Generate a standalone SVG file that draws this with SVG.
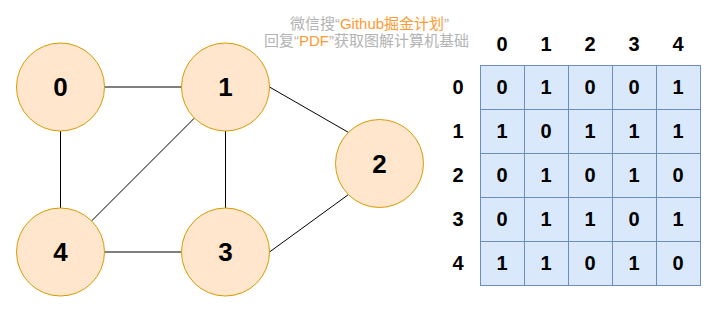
<svg xmlns="http://www.w3.org/2000/svg" width="712" height="315" viewBox="0 0 712 315">
<style>
.node circle{fill:#ffe6cc;stroke:#d79b00;stroke-width:1}
.nl{font-family:"Liberation Sans",Arial,sans-serif;font-weight:bold;font-size:26px;fill:#000;text-anchor:middle}
.edges line{stroke:#000;stroke-width:1}
.cell{fill:#dae8fc;stroke:#6c8ebf;stroke-width:1}
.t{font-family:"Liberation Sans",Arial,sans-serif;font-weight:bold;font-size:20px;fill:#000;text-anchor:middle}
.wm{font-family:"Liberation Sans","Noto Sans CJK SC",sans-serif;font-size:15px;fill:#b3b3b3;text-anchor:middle}
.or{fill:#ff9933}
</style>
<rect width="712" height="315" fill="#ffffff"/>
<g id="watermark">
<text class="wm" x="369.5" y="29">微信搜“<tspan class="or">Github掘金计划</tspan>”</text>
<text class="wm" x="366.5" y="45.5">回复“<tspan class="or">PDF</tspan>”获取图解计算机基础</text>
</g>
<g class="edges" id="edges">
<line x1="104.5" y1="87" x2="181.5" y2="87"/>
<line x1="60.5" y1="131" x2="60.5" y2="208"/>
<line x1="104.5" y1="252" x2="181.5" y2="252"/>
<line x1="225.5" y1="131" x2="225.5" y2="208"/>
<line x1="194.4" y1="118.1" x2="91.6" y2="220.9"/>
<line x1="269.5" y1="87" x2="348.4" y2="132.4"/>
<line x1="269.5" y1="252" x2="348.4" y2="194.6"/>
</g>
<g id="node0" class="node"><circle cx="60.5" cy="87" r="44"/><text class="nl" x="60.5" y="96.4">0</text></g>
<g id="node1" class="node"><circle cx="225.5" cy="87" r="44"/><text class="nl" x="225.5" y="96.4">1</text></g>
<g id="node2" class="node"><circle cx="379.5" cy="163.5" r="44"/><text class="nl" x="379.5" y="172.9">2</text></g>
<g id="node3" class="node"><circle cx="225.5" cy="252" r="44"/><text class="nl" x="225.5" y="261.4">3</text></g>
<g id="node4" class="node"><circle cx="60.5" cy="252" r="44"/><text class="nl" x="60.5" y="261.4">4</text></g>
<g id="matrix">
<g id="col-headers">
<text class="t" x="502" y="50.5">0</text>
<text class="t" x="546" y="50.5">1</text>
<text class="t" x="590" y="50.5">2</text>
<text class="t" x="634" y="50.5">3</text>
<text class="t" x="678" y="50.5">4</text>
</g>
<g id="row-headers">
<text class="t" x="458" y="94.2">0</text>
<text class="t" x="458" y="138.2">1</text>
<text class="t" x="458" y="182.2">2</text>
<text class="t" x="458" y="226.2">3</text>
<text class="t" x="458" y="270.2">4</text>
</g>
<g id="cells">
<rect class="cell" x="480.5" y="65.5" width="44" height="44"/><rect class="cell" x="524.5" y="65.5" width="44" height="44"/><rect class="cell" x="568.5" y="65.5" width="44" height="44"/><rect class="cell" x="612.5" y="65.5" width="44" height="44"/><rect class="cell" x="656.5" y="65.5" width="44" height="44"/>
<rect class="cell" x="480.5" y="109.5" width="44" height="44"/><rect class="cell" x="524.5" y="109.5" width="44" height="44"/><rect class="cell" x="568.5" y="109.5" width="44" height="44"/><rect class="cell" x="612.5" y="109.5" width="44" height="44"/><rect class="cell" x="656.5" y="109.5" width="44" height="44"/>
<rect class="cell" x="480.5" y="153.5" width="44" height="44"/><rect class="cell" x="524.5" y="153.5" width="44" height="44"/><rect class="cell" x="568.5" y="153.5" width="44" height="44"/><rect class="cell" x="612.5" y="153.5" width="44" height="44"/><rect class="cell" x="656.5" y="153.5" width="44" height="44"/>
<rect class="cell" x="480.5" y="197.5" width="44" height="44"/><rect class="cell" x="524.5" y="197.5" width="44" height="44"/><rect class="cell" x="568.5" y="197.5" width="44" height="44"/><rect class="cell" x="612.5" y="197.5" width="44" height="44"/><rect class="cell" x="656.5" y="197.5" width="44" height="44"/>
<rect class="cell" x="480.5" y="241.5" width="44" height="44"/><rect class="cell" x="524.5" y="241.5" width="44" height="44"/><rect class="cell" x="568.5" y="241.5" width="44" height="44"/><rect class="cell" x="612.5" y="241.5" width="44" height="44"/><rect class="cell" x="656.5" y="241.5" width="44" height="44"/>
</g>
<g id="values">
<text class="t" x="502" y="94.2">0</text><text class="t" x="546" y="94.2">1</text><text class="t" x="590" y="94.2">0</text><text class="t" x="634" y="94.2">0</text><text class="t" x="678" y="94.2">1</text>
<text class="t" x="502" y="138.2">1</text><text class="t" x="546" y="138.2">0</text><text class="t" x="590" y="138.2">1</text><text class="t" x="634" y="138.2">1</text><text class="t" x="678" y="138.2">1</text>
<text class="t" x="502" y="182.2">0</text><text class="t" x="546" y="182.2">1</text><text class="t" x="590" y="182.2">0</text><text class="t" x="634" y="182.2">1</text><text class="t" x="678" y="182.2">0</text>
<text class="t" x="502" y="226.2">0</text><text class="t" x="546" y="226.2">1</text><text class="t" x="590" y="226.2">1</text><text class="t" x="634" y="226.2">0</text><text class="t" x="678" y="226.2">1</text>
<text class="t" x="502" y="270.2">1</text><text class="t" x="546" y="270.2">1</text><text class="t" x="590" y="270.2">0</text><text class="t" x="634" y="270.2">1</text><text class="t" x="678" y="270.2">0</text>
</g>
</g>
</svg>
